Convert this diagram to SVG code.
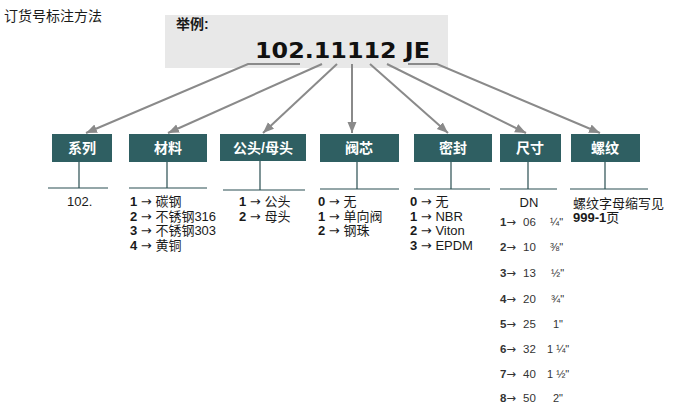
<svg xmlns="http://www.w3.org/2000/svg" width="688" height="410" viewBox="0 0 688 410">
<defs>
<marker id="ah" markerUnits="userSpaceOnUse" markerWidth="12" markerHeight="10" refX="11" refY="4.5" orient="auto">
<path d="M0,0 L11,4.5 L0,9 z" fill="#8a8a8a"/>
</marker>
<style>
.t{font-family:"Liberation Sans","Noto Sans CJK SC",sans-serif;fill:#1a1a1a;}
.box{fill:#2f5f62;}
.bl{font-family:"Liberation Sans","Noto Sans CJK SC",sans-serif;font-size:14px;font-weight:bold;fill:#ffffff;text-anchor:middle;}
.stem{stroke:#2a4f52;stroke-width:1.2;fill:none;}
.con{stroke:#8a8a8a;stroke-width:2;fill:none;marker-end:url(#ah);}
.li{font-size:13px;}
.b{font-weight:bold;}
.ar{font-family:"DejaVu Sans",sans-serif;}
.sz{font-size:11.5px;fill:#333;}
.fr{font-size:11px;fill:#333;}
</style>
</defs>
<rect width="688" height="410" fill="#ffffff"/>
<text class="t" x="4" y="21" font-size="14">订货号标注方法</text>
<g id="example">
<rect x="165" y="15" width="283" height="53" fill="#e8e8e8"/>
<text class="t" x="176" y="29" font-size="14" font-weight="bold">举例:</text>
<text x="255" y="58" font-family="DejaVu Sans, sans-serif" font-weight="bold" font-size="22" fill="#111" textLength="175" lengthAdjust="spacingAndGlyphs">102.11112 JE</text>
</g>
<g id="connectors">
<polyline class="con" points="300,64 248,64 86,133"/>
<line class="con" x1="322" y1="64" x2="168" y2="133"/>
<line class="con" x1="337" y1="64" x2="263" y2="133"/>
<line class="con" x1="352" y1="64" x2="352" y2="133"/>
<line class="con" x1="370" y1="64" x2="448" y2="133"/>
<line class="con" x1="387" y1="64" x2="526" y2="133"/>
<polyline class="con" points="408,64 437,64 600,133"/>
</g>
<g id="n-series">
<rect class="box" x="52" y="134" width="60" height="28"/>
<text class="bl" x="82" y="153">系列</text>
<path class="stem" d="M79,162 V188 M48,188 H108"/>
<text class="t li" x="67" y="206">102.</text>
</g>
<g id="n-material">
<rect class="box" x="129" y="134" width="78" height="28"/>
<text class="bl" x="168" y="153">材料</text>
<path class="stem" d="M167,162 V188 M129,188 H207"/>
<text class="t li" x="130" y="206"><tspan class="b">1</tspan> <tspan class="ar">→</tspan> 碳钢</text>
<text class="t li" x="130" y="221"><tspan class="b">2</tspan> <tspan class="ar">→</tspan> 不锈钢316</text>
<text class="t li" x="130" y="235"><tspan class="b">3</tspan> <tspan class="ar">→</tspan> 不锈钢303</text>
<text class="t li" x="130" y="250"><tspan class="b">4</tspan> <tspan class="ar">→</tspan> 黄铜</text>
</g>
<g id="n-gender">
<rect class="box" x="220" y="134" width="86" height="27"/>
<text class="bl" x="263" y="153">公头/母头</text>
<path class="stem" d="M260,161 V190 M223,190 H305"/>
<text class="t li" x="239" y="206"><tspan class="b">1</tspan> <tspan class="ar">→</tspan> 公头</text>
<text class="t li" x="239" y="221"><tspan class="b">2</tspan> <tspan class="ar">→</tspan> 母头</text>
</g>
<g id="n-core">
<rect class="box" x="320" y="134" width="79" height="28"/>
<text class="bl" x="359" y="153">阀芯</text>
<path class="stem" d="M357,162 V189 M320,189 H399"/>
<text class="t li" x="318" y="206"><tspan class="b">0</tspan> <tspan class="ar">→</tspan> 无</text>
<text class="t li" x="318" y="221"><tspan class="b">1</tspan> <tspan class="ar">→</tspan> 单向阀</text>
<text class="t li" x="318" y="235"><tspan class="b">2</tspan> <tspan class="ar">→</tspan> 钢珠</text>
</g>
<g id="n-seal">
<rect class="box" x="414" y="134" width="78" height="28"/>
<text class="bl" x="453" y="153">密封</text>
<path class="stem" d="M451,162 V189 M414,189 H490"/>
<text class="t li" x="410" y="206"><tspan class="b">0</tspan> <tspan class="ar">→</tspan> 无</text>
<text class="t li" x="410" y="221"><tspan class="b">1</tspan> <tspan class="ar">→</tspan> NBR</text>
<text class="t li" x="410" y="235"><tspan class="b">2</tspan> <tspan class="ar">→</tspan> Viton</text>
<text class="t li" x="410" y="250"><tspan class="b">3</tspan> <tspan class="ar">→</tspan> EPDM</text>
</g>
<g id="n-size">
<rect class="box" x="500" y="134" width="61" height="28"/>
<text class="bl" x="530" y="153">尺寸</text>
<path class="stem" d="M528,162 V189 M500,189 H557"/>
<text class="t li" x="529" y="207" text-anchor="middle">DN</text>
<g class="t sz">
<text x="500" y="226"><tspan class="b">1</tspan><tspan class="ar">→</tspan><tspan x="523">06</tspan></text>
<text x="500" y="251"><tspan class="b">2</tspan><tspan class="ar">→</tspan><tspan x="523">10</tspan></text>
<text x="500" y="277"><tspan class="b">3</tspan><tspan class="ar">→</tspan><tspan x="523">13</tspan></text>
<text x="500" y="303"><tspan class="b">4</tspan><tspan class="ar">→</tspan><tspan x="523">20</tspan></text>
<text x="500" y="328"><tspan class="b">5</tspan><tspan class="ar">→</tspan><tspan x="523">25</tspan></text>
<text x="500" y="353"><tspan class="b">6</tspan><tspan class="ar">→</tspan><tspan x="523">32</tspan></text>
<text x="500" y="378"><tspan class="b">7</tspan><tspan class="ar">→</tspan><tspan x="523">40</tspan></text>
<text x="500" y="402"><tspan class="b">8</tspan><tspan class="ar">→</tspan><tspan x="523">50</tspan></text>
</g>
<g class="t fr">
<text x="550" y="226">¼"</text>
<text x="550" y="251">⅜"</text>
<text x="551" y="277">½"</text>
<text x="551" y="303">¾"</text>
<text x="553" y="328">1"</text>
<text x="547" y="353">1 ¼"</text>
<text x="547" y="378">1 ½"</text>
<text x="553" y="402">2"</text>
</g>
</g>
<g id="n-thread">
<rect class="box" x="571" y="134" width="69" height="28"/>
<text class="bl" x="605" y="153">螺纹</text>
<path class="stem" d="M605,162 V189 M570,189 H648"/>
<text class="t li" x="573" y="208">螺纹字母缩写见</text>
<text class="t li" x="573" y="222"><tspan class="b">999-1</tspan>页</text>
</g>
</svg>
